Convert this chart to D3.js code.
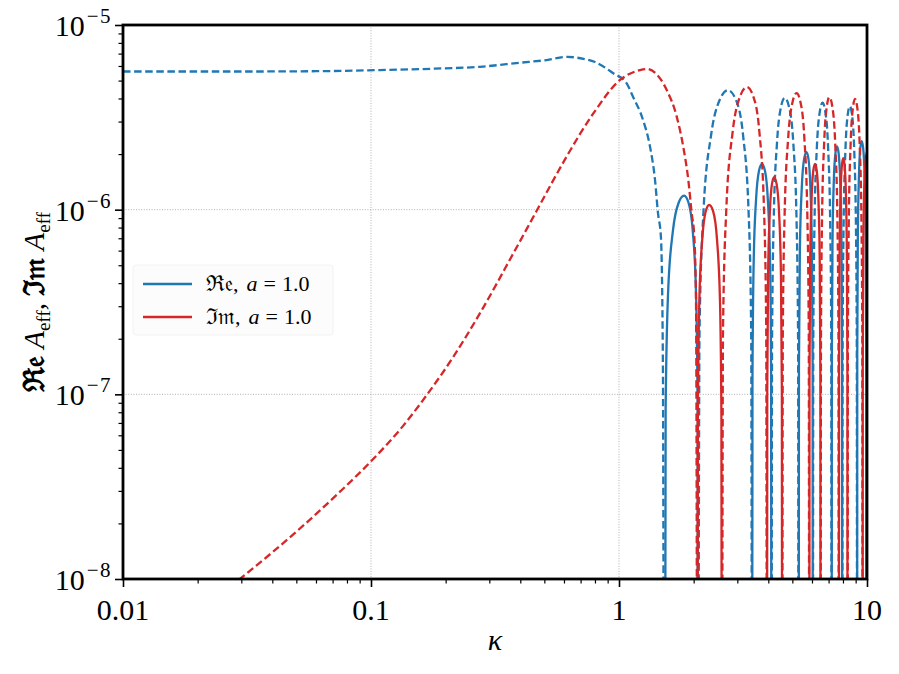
<!DOCTYPE html>
<html>
<head>
<meta charset="utf-8">
<script src="https://cdn.jsdelivr.net/npm/d3@7"></script>
<style>
  body { margin: 0; background: #fff; }
  text { font-family: "Liberation Serif", "DejaVu Serif", serif; fill: #000; }
</style>
</head>
<body>
<div id="chart-container"></div>
<script>
// tick values / labels
const xTicks = [0.01, 0.1, 1, 10]
const xTickLabels = ["0.01", "0.1", "1", "10"]
const yTicks = [1e-8, 1e-7, 1e-6, 1e-5]
const yTickExps = ["\u22128", "\u22127", "\u22126", "\u22125"]

// Re A_eff < 0, plotted as |Re| (dashed blue), one array per lobe, [kappa, value]
const reNeg = [
  [[0.01,5.6e-6],[0.03,5.6e-6],[0.06,5.62e-6],[0.1087,5.7e-6],[0.18,5.8e-6],[0.275,5.94e-6],[0.4,6.25e-6],[0.511,6.46e-6],[0.62,6.72e-6],[0.72,6.55e-6],[0.8,6.3e-6],[0.948,5.48e-6],[1.074,4.83e-6],[1.139,4.09e-6],[1.25,3.06e-6],[1.334,2.19e-6],[1.397,1.45e-6],[1.436,9.6e-7],[1.476,7.1e-7],[1.503,1.5e-7],[1.52,1e-10]],
  [[2.085,1e-10],[2.112,2.2e-7],[2.191,9.8e-7],[2.351,2.53e-6],[2.551,3.95e-6],[2.75,4.44e-6],[2.957,3.95e-6],[3.164,2.53e-6],[3.33,9.8e-7],[3.412,2.2e-7],[3.44,1e-10]],
  [[4.12,1e-10],[4.142,2.0e-7],[4.206,8.9e-7],[4.336,2.3e-6],[4.498,3.59e-6],[4.66,4.03e-6],[4.852,3.59e-6],[5.044,2.3e-6],[5.198,8.9e-7],[5.274,2.0e-7],[5.3,1e-10]],
  [[6.05,1e-10],[6.073,1.9e-7],[6.141,8.4e-7],[6.278,2.17e-6],[6.449,3.38e-6],[6.62,3.8e-6],[6.794,3.38e-6],[6.968,2.17e-6],[7.107,8.4e-7],[7.177,1.9e-7],[7.2,1e-10]],
  [[7.95,1e-10],[7.973,1.8e-7],[8.043,8.0e-7],[8.182,2.07e-6],[8.356,3.24e-6],[8.53,3.64e-6],[8.707,3.24e-6],[8.884,2.07e-6],[9.026,8.0e-7],[9.096,1.8e-7],[9.12,1e-10]]
]

// Re A_eff > 0 (solid blue)
const rePos = [
  [[1.53,1e-10],[1.542,8.3e-8],[1.578,3.6e-7],[1.65,7.7e-7],[1.74,1.09e-6],[1.83,1.19e-6],[1.907,1.09e-6],[1.983,7.7e-7],[2.044,3.6e-7],[2.075,8.3e-8],[2.085,1e-10]],
  [[3.44,1e-10],[3.453,1.24e-7],[3.493,5.3e-7],[3.572,1.15e-6],[3.671,1.63e-6],[3.77,1.77e-6],[3.875,1.63e-6],[3.98,1.15e-6],[4.064,5.3e-7],[4.106,1.24e-7],[4.12,1e-10]],
  [[5.3,1e-10],[5.316,1.44e-7],[5.364,6.2e-7],[5.46,1.33e-6],[5.58,1.89e-6],[5.7,2.05e-6],[5.805,1.89e-6],[5.91,1.33e-6],[5.994,6.2e-7],[6.036,1.44e-7],[6.05,1e-10]],
  [[7.2,1e-10],[7.215,1.54e-7],[7.259,6.6e-7],[7.348,1.43e-6],[7.459,2.02e-6],[7.57,2.2e-6],[7.684,2.02e-6],[7.798,1.43e-6],[7.889,6.6e-7],[7.935,1.54e-7],[7.95,1e-10]],
  [[9.12,1e-10],[9.136,1.65e-7],[9.184,7.1e-7],[9.28,1.53e-6],[9.4,2.16e-6],[9.52,2.35e-6],[9.649,2.16e-6],[9.778,1.53e-6],[9.881,7.1e-7],[9.933,1.65e-7],[9.95,1e-10]]
]

// Im A_eff < 0, plotted as |Im| (dashed red)
const imNeg = [
  [[0.025,8.3e-9],[0.0296,1.0e-8],[0.0404,1.41e-8],[0.055,2.02e-8],[0.075,2.97e-8],[0.1007,4.38e-8],[0.135,6.77e-8],[0.1677,9.9e-8],[0.215,1.6e-7],[0.2751,2.75e-7],[0.3749,5.8e-7],[0.4657,9.87e-7],[0.535,1.39e-6],[0.615,1.94e-6],[0.788,3.32e-6],[1.01,5.04e-6],[1.215,5.7e-6],[1.3,5.78e-6],[1.4,5.5e-6],[1.557,4.45e-6],[1.709,3.19e-6],[1.816,2.19e-6],[1.903,1.45e-6],[1.964,9.56e-7],[2.012,7.14e-7],[2.045,3.0e-7],[2.07,1e-10]],
  [[2.6,1e-10],[2.627,2.3e-7],[2.709,1.01e-6],[2.872,2.63e-6],[3.076,4.1e-6],[3.28,4.61e-6],[3.481,4.1e-6],[3.682,2.63e-6],[3.843,1.01e-6],[3.923,2.3e-7],[3.95,1e-10]],
  [[4.55,1e-10],[4.576,2.1e-7],[4.654,9.4e-7],[4.81,2.44e-6],[5.005,3.81e-6],[5.2,4.28e-6],[5.395,3.81e-6],[5.59,2.44e-6],[5.746,9.4e-7],[5.824,2.1e-7],[5.85,1e-10]],
  [[6.5,1e-10],[6.522,2.0e-7],[6.588,9.0e-7],[6.72,2.32e-6],[6.885,3.62e-6],[7.05,4.07e-6],[7.245,3.62e-6],[7.44,2.32e-6],[7.596,9.0e-7],[7.674,2.0e-7],[7.7,1e-10]],
  [[8.35,1e-10],[8.374,2.0e-7],[8.446,8.8e-7],[8.59,2.27e-6],[8.77,3.54e-6],[8.95,3.98e-6],[9.145,3.54e-6],[9.34,2.27e-6],[9.496,8.8e-7],[9.574,2.0e-7],[9.6,1e-10]]
]

// Im A_eff > 0 (solid red)
const imPos = [
  [[2.07,1e-10],[2.08,7.4e-8],[2.108,3.2e-7],[2.166,6.9e-7],[2.238,9.8e-7],[2.31,1.06e-6],[2.397,9.8e-7],[2.484,6.9e-7],[2.554,3.2e-7],[2.588,7.4e-8],[2.6,1e-10]],
  [[3.95,1e-10],[3.961,1.05e-7],[3.993,4.5e-7],[4.058,9.75e-7],[4.139,1.38e-6],[4.22,1.5e-6],[4.319,1.38e-6],[4.418,9.75e-7],[4.497,4.5e-7],[4.537,1.05e-7],[4.55,1e-10]],
  [[5.85,1e-10],[5.863,1.24e-7],[5.901,5.3e-7],[5.978,1.15e-6],[6.074,1.63e-6],[6.17,1.77e-6],[6.269,1.63e-6],[6.368,1.15e-6],[6.447,5.3e-7],[6.487,1.24e-7],[6.5,1e-10]],
  [[7.7,1e-10],[7.713,1.33e-7],[7.751,5.7e-7],[7.828,1.24e-6],[7.924,1.75e-6],[8.02,1.9e-6],[8.119,1.75e-6],[8.218,1.24e-6],[8.297,5.7e-7],[8.337,1.33e-7],[8.35,1e-10]],
  [[9.6,1e-10],[9.614,1.4e-7],[9.66,6.2e-7],[9.75,1.33e-6],[9.87,1.85e-6],[10,2.05e-6]]
]

const blue = "#1f77b4"
const red = "#d62728"

const margin = {top: 25, right: 32, bottom: 95, left: 123}
const width = 899 - margin.left - margin.right
const height = 674 - margin.top - margin.bottom

const svg = d3.select("#chart-container")
  .append("svg")
    .attr("width", 899)
    .attr("height", 674)

const g = svg.append("g")
    .attr("transform", `translate(${margin.left}, ${margin.top})`)

const x = d3.scaleLog().domain([0.01, 10]).range([0, width])
const y = d3.scaleLog().domain([1e-8, 1e-5]).range([height, 0])

// minor tick values
const xMinor = []
for (const dec of [0.01, 0.1, 1]) for (let m = 2; m <= 9; m++) xMinor.push(dec * m)
const yMinor = []
for (const dec of [1e-8, 1e-7, 1e-6]) for (let m = 2; m <= 9; m++) yMinor.push(dec * m)

// grid
g.append("g")
  .selectAll("line")
  .data(xTicks.slice(1, -1))
  .join("line")
    .attr("x1", d => x(d)).attr("x2", d => x(d))
    .attr("y1", 0).attr("y2", height)
    .attr("stroke", "#a8a8a8").attr("stroke-width", 0.9)
    .attr("stroke-dasharray", "1,1.6")
g.append("g")
  .selectAll("line")
  .data(yTicks.slice(1, -1))
  .join("line")
    .attr("x1", 0).attr("x2", width)
    .attr("y1", d => y(d)).attr("y2", d => y(d))
    .attr("stroke", "#a8a8a8").attr("stroke-width", 0.9)
    .attr("stroke-dasharray", "1,1.6")

// lines
g.append("clipPath").attr("id", "clip")
  .append("rect").attr("width", width).attr("height", height)

const line = d3.line()
  .x(d => x(d[0]))
  .y(d => y(d[1]))
  .curve(d3.curveMonotoneX)

const plot = g.append("g").attr("clip-path", "url(#clip)")

function drawSegments(segs, color, dashed) {
  plot.append("g")
    .selectAll("path")
    .data(segs)
    .join("path")
      .attr("d", line)
      .attr("fill", "none")
      .attr("stroke", color)
      .attr("stroke-width", 2.3)
      .attr("stroke-dasharray", dashed ? "7.5,3.6" : null)
}
drawSegments(reNeg, blue, true)
drawSegments(rePos, blue, false)
drawSegments(imNeg, red, true)
drawSegments(imPos, red, false)

// axes (ticks outward, no d3 labels)
g.append("g")
  .attr("transform", `translate(0, ${height})`)
  .call(d3.axisBottom(x).tickValues(xTicks).tickSize(8).tickFormat(""))
  .call(a => a.select(".domain").remove())
  .selectAll("line").attr("stroke-width", 1.6)
g.append("g")
  .attr("transform", `translate(0, ${height})`)
  .call(d3.axisBottom(x).tickValues(xMinor).tickSize(4.5).tickFormat(""))
  .call(a => a.select(".domain").remove())
  .selectAll("line").attr("stroke-width", 1.2)
g.append("g")
  .call(d3.axisLeft(y).tickValues(yTicks).tickSize(8).tickFormat(""))
  .call(a => a.select(".domain").remove())
  .selectAll("line").attr("stroke-width", 1.6)
g.append("g")
  .call(d3.axisLeft(y).tickValues(yMinor).tickSize(4.5).tickFormat(""))
  .call(a => a.select(".domain").remove())
  .selectAll("line").attr("stroke-width", 1.2)

// frame
g.append("rect")
  .attr("width", width).attr("height", height)
  .attr("fill", "none").attr("stroke", "#000").attr("stroke-width", 2.8)

// tick labels
g.append("g")
  .selectAll("text")
  .data(xTicks)
  .join("text")
    .attr("x", d => x(d))
    .attr("y", height + 41)
    .attr("text-anchor", "middle")
    .attr("font-size", 30)
    .text((d, i) => xTickLabels[i])

const yl = g.append("g")
  .selectAll("text")
  .data(yTicks)
  .join("text")
    .attr("x", -11)
    .attr("y", d => y(d) + 11)
    .attr("text-anchor", "end")
    .attr("font-size", 30)
yl.append("tspan").text("10")
yl.append("tspan")
    .attr("font-size", 21)
    .attr("dx", 2)
    .attr("dy", -13)
    .attr("letter-spacing", 1.5)
    .text((d, i) => yTickExps[i])

// axis titles
svg.append("text")
  .attr("x", margin.left + width / 2)
  .attr("y", 650)
  .attr("text-anchor", "middle")
  .attr("font-size", 30)
  .attr("font-style", "italic")
  .text("\u03ba")

const ylab = svg.append("text")
  .attr("transform", "translate(44, 302) rotate(-90)")
  .attr("text-anchor", "middle")
  .attr("font-size", 29)
ylab.append("tspan").attr("font-weight", "bold").text("\u211C\uD835\uDD22 ")
ylab.append("tspan").attr("font-style", "italic").text("A")
ylab.append("tspan").attr("font-size", 19).attr("dy", 6).text("eff")
ylab.append("tspan").attr("dy", -6).text(", ")
ylab.append("tspan").attr("font-weight", "bold").text("\u2111\uD835\uDD2A ")
ylab.append("tspan").attr("font-style", "italic").text("A")
ylab.append("tspan").attr("font-size", 19).attr("dy", 6).text("eff")

// legend
const legendKeys = [
  {label: "\u211C\uD835\uDD22,", color: blue},
  {label: "\u2111\uD835\uDD2A,", color: red}
]
const legend = svg.append("g").attr("transform", "translate(133, 265)")
legend.append("rect")
  .attr("width", 200).attr("height", 70)
  .attr("fill", "#fcfcfc").attr("stroke", "#f2f2f2").attr("rx", 3)
const item = legend.selectAll(".lineLegend")
  .data(legendKeys)
  .join("g")
    .attr("class", "lineLegend")
    .attr("transform", (d, i) => `translate(0, ${19 + i * 33})`)
item.append("line")
  .attr("x1", 10).attr("x2", 59)
  .attr("stroke", d => d.color).attr("stroke-width", 2.3)
const lt = item.append("text")
  .attr("x", 73).attr("y", 7)
  .attr("font-size", 22)
lt.append("tspan").text(d => d.label)
lt.append("tspan").attr("dx", 8).attr("font-style", "italic").text("a")
lt.append("tspan").attr("dx", 6).text("=")
lt.append("tspan").attr("dx", 6).text("1.0")
</script>
</body>
</html>
